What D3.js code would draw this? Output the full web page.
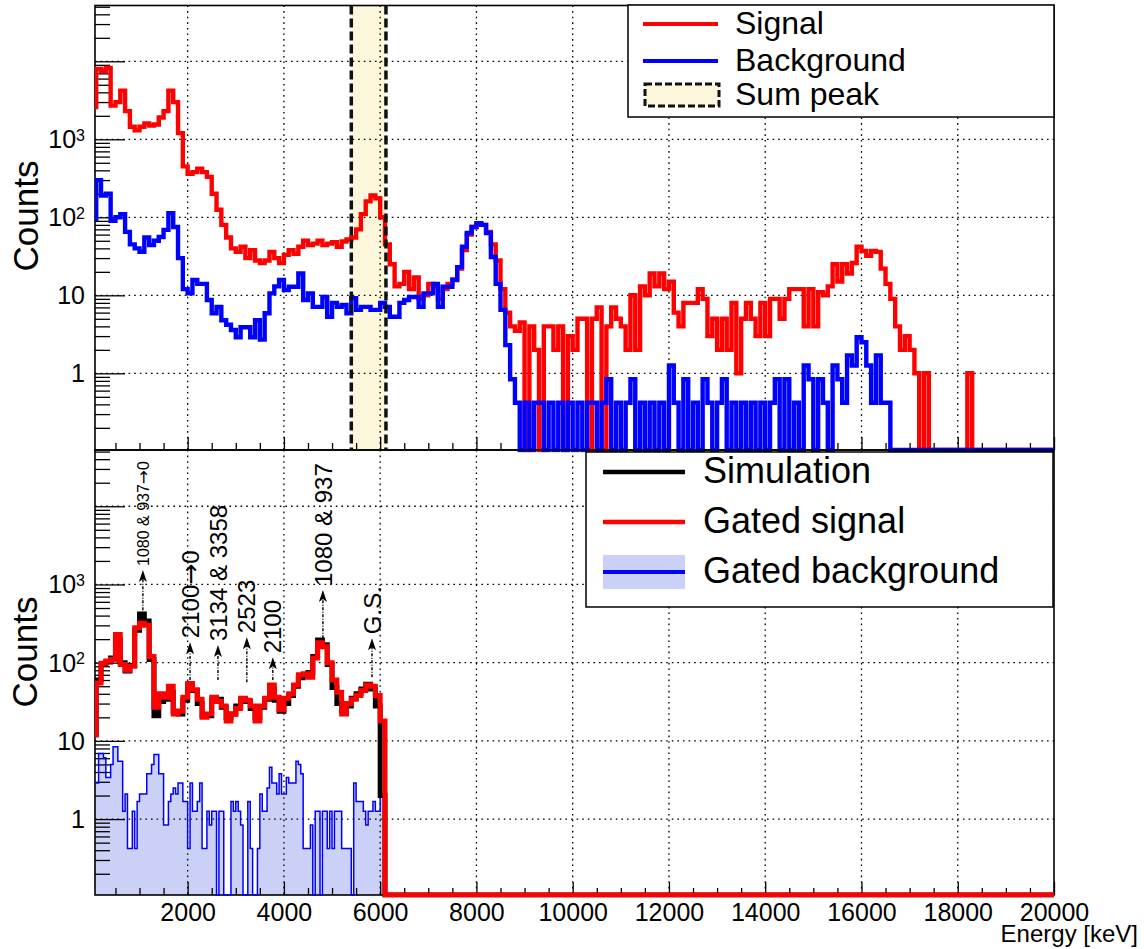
<!DOCTYPE html>
<html>
  <body>
    <style>
      body {
        margin: 0;
        background: #fff;
      }
      svg {
        display: block;
        font-family: 'Liberation Sans', Arial, sans-serif;
      }
      .grid line {
        stroke: #000;
        stroke-width: 1.3;
        stroke-dasharray: 1.6, 4;
      }
      .frame {
        fill: none;
        stroke: #000;
        stroke-width: 1.6;
      }
      .tick line {
        stroke: #000;
        stroke-width: 1.3;
      }
      .hist {
        fill: none;
        stroke-linejoin: miter;
      }
      .ylab {
        font-size: 25px;
      }
      .xlab {
        font-size: 25px;
      }
      .title {
        font-size: 35px;
      }
      .anno {
        font-size: 24px;
      }
      .anno.small {
        font-size: 16px;
      }
      .arrow {
        font-family: 'DejaVu Sans', sans-serif;
        font-size: 1.05em;
      }
    </style>
    <div class="chart"></div>
    <script src="https://d3js.org/d3.v7.min.js"></script>
    <script type="text/javascript">
      // ---- data ----
      // upper panel: 100 keV bins, lower edge of bin i = 100 * i
      const topEdges = d3.range(0, 20000, 100);
      const signal = [
        2600, 8000, 7500, 8200, 2700, 3000, 4200, 2300, 1450, 1300,
        1450, 1600, 1500, 1550, 1900, 2300, 4200, 3000, 1200, 450,
        360, 380, 420, 380, 330, 200, 125, 80, 55, 40,
        36, 42, 30, 38, 28, 26, 28, 36, 30, 26,
        33, 38, 34, 42, 50, 44, 46, 50, 44, 46,
        48, 42, 49, 52, 55, 70, 110, 160, 190, 175,
        100, 45, 25, 13, 14, 20, 12, 17, 9, 10,
        14, 13, 9, 12, 14, 16, 22, 38, 60, 75,
        82, 80, 65, 45, 28, 12, 6, 4, 3.5, 4.5,
        0, 4, 2, 0, 4, 4, 2, 4, 0, 3,
        2, 5, 5, 0, 5, 7, 0, 4, 7, 5,
        4, 2, 10, 2, 13, 10, 19, 13, 19, 12,
        15, 6, 4, 8, 8, 8, 12, 9, 3, 5,
        2, 5, 2, 8, 1, 5, 8, 5, 3, 8,
        3, 9, 9, 5, 9, 12, 12, 12, 4, 12,
        4, 11, 10, 13, 25, 15, 25, 19, 26, 42,
        37, 32, 37, 36, 22, 14, 9, 4, 2, 3,
        2, 1, 0, 1, 0, 0, 0, 0, 0, 0,
        0, 0, 1, 0, 0, 0, 0, 0, 0, 0,
        0, 0, 0, 0, 0, 0, 0, 0, 0, 0,
      ];
      const background = [
        95, 300, 190, 200, 90, 100, 110, 65, 45, 40,
        36, 55, 44, 50, 56, 69, 113, 75, 30, 12,
        10.6, 15.7, 14, 14, 8.7, 5.9, 7.1, 4.8, 4.2, 3.6,
        2.9, 3.9, 3.9, 2.9, 4.8, 2.7, 5.9, 10.6, 13, 15.7,
        11.7, 12.9, 12.9, 19, 8.7, 10.6, 7.1, 7.1, 9.5, 5.3,
        8, 7.1, 7.5, 5.9, 9.2, 6.5, 7.1, 7.1, 6.5, 6.5,
        8, 7.1, 5.3, 5.3, 8, 8.7, 9.5, 9.5, 7.1, 10.6,
        10.6, 14, 7.1, 12.9, 12.9, 15.7, 23, 42, 63, 75,
        84, 80, 63, 31, 14, 6.5, 2.3, 0.84, 0.42, 0,
        0.42, 0, 0.42, 0.42, 0, 0.42, 0, 0.42, 0, 0.42,
        0, 0.42, 0, 0.42, 0.42, 0, 0.42, 0.84, 0, 0.42,
        0, 0.42, 0.84, 0, 0.42, 0, 0.42, 0, 0.42, 0,
        1.26, 0.42, 0, 0.84, 0, 0.42, 0, 0.84, 0.42, 0,
        0.42, 0.84, 0, 0.42, 0, 0.42, 0, 0.42, 0, 0.42,
        0, 0.42, 0.84, 0, 0.84, 0, 0.42, 0, 1.26, 0.84,
        0, 0.84, 0.42, 0, 1.26, 0.84, 0.42, 1.7, 1.26, 2.9,
        2.5, 1.26, 0.42, 1.7, 0.42, 0.42, 0, 0, 0, 0,
        0, 0, 0, 0, 0, 0, 0, 0, 0, 0,
        0, 0, 0, 0, 0, 0, 0, 0, 0, 0,
        0, 0, 0, 0, 0, 0, 0, 0, 0, 0,
      ];
      const sumPeak = [5400, 6120];

      // lower panel: 100 keV bins for simulation and gated signal
      const lowEdges = d3.range(0, 20000, 100);
      const simulation = [
        12, 60, 95, 102, 115, 200, 100, 78, 92, 260,
        420, 340, 110, 21, 32, 34, 42, 24, 22, 33,
        52, 44, 30, 21, 21, 33, 34, 27, 20, 22,
        28, 34, 32, 26, 20, 27, 34, 46, 33, 24,
        30, 38, 50, 64, 70, 75, 120, 195, 170, 95,
        48, 30, 24, 28, 35, 40, 46, 53, 46, 28,
        2, 0, 0, 0, 0, 0, 0, 0, 0, 0,
        0, 0, 0, 0, 0, 0, 0, 0, 0, 0,
        0, 0, 0, 0, 0, 0, 0, 0, 0, 0,
        0, 0, 0, 0, 0, 0, 0, 0, 0, 0,
        0, 0, 0, 0, 0, 0, 0, 0, 0, 0,
        0, 0, 0, 0, 0, 0, 0, 0, 0, 0,
        0, 0, 0, 0, 0, 0, 0, 0, 0, 0,
        0, 0, 0, 0, 0, 0, 0, 0, 0, 0,
        0, 0, 0, 0, 0, 0, 0, 0, 0, 0,
        0, 0, 0, 0, 0, 0, 0, 0, 0, 0,
        0, 0, 0, 0, 0, 0, 0, 0, 0, 0,
        0, 0, 0, 0, 0, 0, 0, 0, 0, 0,
        0, 0, 0, 0, 0, 0, 0, 0, 0, 0,
        0, 0, 0, 0, 0, 0, 0, 0, 0, 0,
      ];
      const gatedSignal = [
        12, 55, 98, 105, 110, 230, 95, 80, 90, 280,
        320, 300, 120, 27, 40, 36, 50, 22, 24, 36,
        54, 45, 34, 20, 22, 36, 32, 28, 18, 22,
        26, 35, 33, 28, 18, 28, 35, 52, 36, 25,
        35, 40, 52, 70, 72, 65, 115, 180, 160, 100,
        60, 42, 22, 30, 34, 38, 44, 52, 50, 38,
        18, 0, 0, 0, 0, 0, 0, 0, 0, 0,
        0, 0, 0, 0, 0, 0, 0, 0, 0, 0,
        0, 0, 0, 0, 0, 0, 0, 0, 0, 0,
        0, 0, 0, 0, 0, 0, 0, 0, 0, 0,
        0, 0, 0, 0, 0, 0, 0, 0, 0, 0,
        0, 0, 0, 0, 0, 0, 0, 0, 0, 0,
        0, 0, 0, 0, 0, 0, 0, 0, 0, 0,
        0, 0, 0, 0, 0, 0, 0, 0, 0, 0,
        0, 0, 0, 0, 0, 0, 0, 0, 0, 0,
        0, 0, 0, 0, 0, 0, 0, 0, 0, 0,
        0, 0, 0, 0, 0, 0, 0, 0, 0, 0,
        0, 0, 0, 0, 0, 0, 0, 0, 0, 0,
        0, 0, 0, 0, 0, 0, 0, 0, 0, 0,
        0, 0, 0, 0, 0, 0, 0, 0, 0, 0,
      ];
      // gated background: 50 keV bins up to 6100 keV
      const bgEdges = d3.range(0, 6100, 50);
      const gatedBackground = [
        1.26, 2.9, 2.9, 6.9, 6.9, 6.1, 3.4, 3.4, 5.0, 8.4,
        8.4, 5.5, 5.5, 1.26, 2.1, 0.42, 0.42, 1.26, 0.42, 1.68,
        2.1, 2.1, 2.1, 3.8, 3.8, 5.0, 6.7, 6.7, 3.8, 3.8,
        0.84, 0.84, 1.68, 2.1, 2.5, 2.1, 2.9, 2.9, 1.68, 1.68,
        0.42, 2.9, 1.26, 1.26, 1.68, 2.9, 0.42, 0.42, 1.26, 0.84,
        1.26, 1.26, 0, 1.26, 1.26, 0, 0, 0, 1.68, 1.26,
        1.68, 1.26, 0.84, 0, 0, 1.68, 0.42, 0, 0, 0.42,
        2.1, 1.26, 1.26, 2.5, 4.6, 2.9, 2.9, 2.1, 3.8, 2.1,
        2.1, 3.4, 2.9, 2.9, 2.9, 5.5, 5.0, 3.8, 0.42, 0.42,
        0.42, 0.84, 0, 1.26, 1.26, 0, 1.26, 1.26, 0.42, 1.26,
        0.42, 1.26, 1.26, 1.26, 0.42, 0.42, 0.42, 0.42, 0, 2.9,
        1.68, 1.68, 1.68, 1.26, 0.84, 1.26, 1.26, 1.68, 1.26, 1.26,
        2.1, 2.1,
      ];

      // peak annotations in the lower panel
      const annoLabels = ['1080 & 937\u21920', '2100\u21920', '3134 & 3358', '2523', '2100', '1080 & 937', 'G.S.'];
      const annoEnergy = [1070, 2050, 2630, 3230, 3770, 4810, 5830];
      const annoTail = [380, 60, 60, 56, 60, 206, 65];
      const annoHead = [1530, 183, 168, 212, 117, 850, 206];

      const xTickValues = [2000, 4000, 6000, 8000, 10000, 12000, 14000, 16000, 18000, 20000];
      const yLabelValues = [1, 10, 100, 1000];
      const topLegend = ['Signal', 'Background', 'Sum peak'];
      const lowLegend = ['Simulation', 'Gated signal', 'Gated background'];

      // ---- layout ----
      const width = 1144;
      const height = 949;
      const left = 95;
      const right = 1054;
      const topPanel = { top: 5.5, bottom: 450 };
      const lowPanel = { top: 450, bottom: 895 };

      const x = d3.scaleLinear().domain([75, 20000]).range([left, right]);
      const yTop = d3.scaleLog().domain([0.104, 51900]).range([topPanel.bottom, topPanel.top]);
      const yLow = d3.scaleLog().domain([0.107, 52400]).range([lowPanel.bottom, lowPanel.top]);

      const svg = d3
        .select('.chart')
        .append('svg')
        .attr('width', width)
        .attr('height', height);

      // clip a little below the frame so zero bins sit on the axis line
      function clipFor(id, p) {
        svg
          .append('clipPath')
          .attr('id', id)
          .append('rect')
          .attr('x', left)
          .attr('y', p.top)
          .attr('width', right - left)
          .attr('height', p.bottom - p.top + 2.5);
      }
      clipFor('clipTop', topPanel);
      clipFor('clipLow', lowPanel);

      function histPoints(edges, binWidth, values) {
        const pts = values.map((v, i) => [edges[i], v]);
        pts.push([edges[values.length - 1] + binWidth, values[values.length - 1]]);
        return pts;
      }

      function stepLine(y) {
        const floor = y.domain()[0];
        return d3
          .line()
          .curve(d3.curveStepAfter)
          .x((d) => x(d[0]))
          .y((d) => y(Math.max(d[1], floor)));
      }

      function stepArea(y, base) {
        const floor = y.domain()[0];
        return d3
          .area()
          .curve(d3.curveStepAfter)
          .x((d) => x(d[0]))
          .y0(base)
          .y1((d) => y(Math.max(d[1], floor)));
      }

      function drawGrid(p, y) {
        const g = svg.append('g').attr('class', 'grid');
        g.selectAll('.gx')
          .data(xTickValues.filter((v) => v < 20000))
          .enter()
          .append('line')
          .attr('x1', (d) => x(d))
          .attr('x2', (d) => x(d))
          .attr('y1', p.top)
          .attr('y2', p.bottom);
        g.selectAll('.gy')
          .data([1, 10, 100, 1000, 10000])
          .enter()
          .append('line')
          .attr('x1', left)
          .attr('x2', right)
          .attr('y1', (d) => y(d))
          .attr('y2', (d) => y(d));
      }

      function drawAxes(p, y, withLabels) {
        // y: major and minor ticks pointing inward
        const decades = [0.1, 1, 10, 100, 1000, 10000];
        const minor = [];
        decades.forEach((d) => {
          for (let k = 2; k <= 9; k++) minor.push(d * k);
        });
        const [lo, hi] = y.domain();
        svg
          .append('g')
          .attr('transform', `translate(${left},0)`)
          .call(d3.axisLeft(y).tickValues(minor.filter((v) => v > lo && v < hi)).tickSize(-15).tickFormat(''))
          .call((g) => g.select('.domain').remove());
        svg
          .append('g')
          .attr('transform', `translate(${left},0)`)
          .call(d3.axisLeft(y).tickValues(decades.filter((v) => v > lo && v < hi)).tickSize(-30).tickFormat(''))
          .call((g) => g.select('.domain').remove());

        // y labels with superscript exponents
        const lab = svg
          .selectAll(null)
          .data(yLabelValues)
          .enter()
          .append('text')
          .attr('class', 'ylab')
          .attr('x', 85)
          .attr('y', (d) => y(d))
          .attr('dy', '0.36em')
          .attr('text-anchor', 'end');
        lab.each(function (d) {
          const e = Math.round(Math.log10(d));
          const t = d3.select(this);
          if (e < 2) {
            t.text(String(d));
          } else {
            t.append('tspan').text('10');
            t.append('tspan').attr('dy', '-0.45em').style('font-size', '16px').text(String(e));
          }
        });

        // x ticks on the bottom edge
        const minorX = d3.range(500, 20000, 500).filter((v) => v % 2000 !== 0);
        svg
          .append('g')
          .attr('transform', `translate(0,${p.bottom})`)
          .call(d3.axisBottom(x).tickValues(minorX).tickSize(-7).tickFormat(''))
          .call((g) => g.select('.domain').remove());
        const ax = svg
          .append('g')
          .attr('transform', `translate(0,${p.bottom})`)
          .call(
            d3
              .axisBottom(x)
              .tickValues(xTickValues)
              .tickSize(-13)
              .tickPadding(8.5)
              .tickFormat(withLabels ? d3.format('d') : '')
          )
          .call((g) => g.select('.domain').remove());
        ax.selectAll('text')
          .attr('class', 'xlab')
          .attr('fill', '#000')
          .style('font-family', "'Liberation Sans', Arial, sans-serif");

        svg
          .append('rect')
          .attr('class', 'frame')
          .attr('x', left)
          .attr('y', p.top)
          .attr('width', right - left)
          .attr('height', p.bottom - p.top);
      }

      // ---- upper panel ----
      svg
        .append('rect')
        .attr('x', x(sumPeak[0]))
        .attr('y', topPanel.top)
        .attr('width', x(sumPeak[1]) - x(sumPeak[0]))
        .attr('height', topPanel.bottom - topPanel.top)
        .attr('fill', '#fcf6db');
      drawGrid(topPanel, yTop);
      drawAxes(topPanel, yTop, false);
      const gTop = svg.append('g').attr('clip-path', 'url(#clipTop)');
      gTop
        .append('path')
        .attr('class', 'hist')
        .attr('d', stepLine(yTop)(histPoints(topEdges, 100, signal)))
        .attr('stroke', '#ff0000')
        .attr('stroke-width', 4.4);
      gTop
        .append('path')
        .attr('class', 'hist')
        .attr('d', stepLine(yTop)(histPoints(topEdges, 100, background)))
        .attr('stroke', '#0000ff')
        .attr('stroke-width', 4.4);
      gTop
        .selectAll('.sumedge')
        .data(sumPeak)
        .enter()
        .append('line')
        .attr('x1', (d) => x(d))
        .attr('x2', (d) => x(d))
        .attr('y1', topPanel.top)
        .attr('y2', topPanel.bottom)
        .attr('stroke', '#111')
        .attr('stroke-width', 3.5)
        .attr('stroke-dasharray', '9,4');

      // ---- lower panel ----
      const gLowFill = svg.append('g').attr('clip-path', 'url(#clipLow)');
      gLowFill
        .append('path')
        .attr('d', stepArea(yLow, lowPanel.bottom)(histPoints(bgEdges, 50, gatedBackground)))
        .attr('fill', '#cbd1f6');
      drawGrid(lowPanel, yLow);
      drawAxes(lowPanel, yLow, true);
      const gLow = svg.append('g').attr('clip-path', 'url(#clipLow)');
      gLow
        .append('path')
        .attr('class', 'hist')
        .attr('d', stepLine(yLow)(histPoints(bgEdges, 50, gatedBackground)))
        .attr('stroke', '#0000ff')
        .attr('stroke-width', 1.5);
      gLow
        .append('path')
        .attr('class', 'hist')
        .attr('d', stepLine(yLow)(histPoints(lowEdges, 100, simulation)))
        .attr('stroke', '#000')
        .attr('stroke-width', 5);
      gLow
        .append('path')
        .attr('class', 'hist')
        .attr('d', stepLine(yLow)(histPoints(lowEdges, 100, gatedSignal)))
        .attr('stroke', '#ff0000')
        .attr('stroke-width', 5);

      // annotations: dash-dot arrow plus rotated label
      const anno = svg
        .selectAll('.anno-g')
        .data(annoLabels)
        .enter()
        .append('g');
      anno
        .append('line')
        .attr('x1', (d, i) => x(annoEnergy[i]))
        .attr('x2', (d, i) => x(annoEnergy[i]))
        .attr('y1', (d, i) => yLow(annoTail[i]))
        .attr('y2', (d, i) => yLow(annoHead[i]) + 8)
        .attr('stroke', '#000')
        .attr('stroke-width', 1.4)
        .attr('stroke-dasharray', '3,1.5,1,1.5');
      anno
        .append('path')
        .attr('d', (d, i) => {
          const ax = x(annoEnergy[i]);
          const ay = yLow(annoHead[i]);
          return `M${ax},${ay} L${ax - 4},${ay + 12} L${ax},${ay + 9} L${ax + 4},${ay + 12} Z`;
        })
        .attr('fill', '#000');
      anno
        .append('text')
        .attr('class', (d, i) => (i === 0 ? 'anno small' : 'anno'))
        .attr('transform', (d, i) => `translate(${x(annoEnergy[i])},${yLow(annoHead[i]) - 4}) rotate(-90)`)
        .attr('dy', '0.36em')
        .each(function (d) {
          const t = d3.select(this);
          d.split('\u2192').forEach((part, k) => {
            if (k > 0) t.append('tspan').attr('class', 'arrow').text('\u2192');
            t.append('tspan').text(part);
          });
        });

      // axis titles
      svg
        .append('text')
        .attr('class', 'title')
        .attr('transform', `translate(38,216) rotate(-90)`)
        .attr('text-anchor', 'middle')
        .text('Counts');
      svg
        .append('text')
        .attr('class', 'title')
        .attr('transform', `translate(37,652) rotate(-90)`)
        .attr('text-anchor', 'middle')
        .text('Counts');
      svg
        .append('text')
        .attr('x', 1138)
        .attr('y', 942)
        .attr('text-anchor', 'end')
        .style('font-size', '24px')
        .text('Energy [keV]');

      // ---- legends ----
      const lt = svg.append('g');
      lt.append('rect')
        .attr('x', 628)
        .attr('y', 5)
        .attr('width', 426)
        .attr('height', 112)
        .attr('fill', '#fff')
        .attr('stroke', '#000')
        .attr('stroke-width', 1.5);
      const topRows = [24, 61, 95];
      lt.selectAll('.lt-text')
        .data(topLegend)
        .enter()
        .append('text')
        .attr('x', 735)
        .attr('y', (d, i) => topRows[i] + 10)
        .style('font-size', '32px')
        .text((d) => d);
      lt.append('line').attr('x1', 643).attr('x2', 718).attr('y1', topRows[0]).attr('y2', topRows[0])
        .attr('stroke', '#ff0000').attr('stroke-width', 4);
      lt.append('line').attr('x1', 643).attr('x2', 718).attr('y1', topRows[1]).attr('y2', topRows[1])
        .attr('stroke', '#0000ff').attr('stroke-width', 4);
      lt.append('rect')
        .attr('x', 645)
        .attr('y', topRows[2] - 11)
        .attr('width', 74)
        .attr('height', 22)
        .attr('fill', '#fcf6db')
        .attr('stroke', '#111')
        .attr('stroke-width', 3)
        .attr('stroke-dasharray', '7,3');

      const ll = svg.append('g');
      ll.append('rect')
        .attr('x', 586)
        .attr('y', 452)
        .attr('width', 467)
        .attr('height', 155)
        .attr('fill', '#fff')
        .attr('stroke', '#000')
        .attr('stroke-width', 1.5);
      const lowRows = [472, 522, 572];
      ll.append('rect')
        .attr('x', 603)
        .attr('y', lowRows[2] - 17)
        .attr('width', 82)
        .attr('height', 34)
        .attr('fill', '#cbd1f6');
      ll.selectAll('.ll-line')
        .data(['#000', '#ff0000', '#0000ff'])
        .enter()
        .append('line')
        .attr('x1', 603)
        .attr('x2', 685)
        .attr('y1', (d, i) => lowRows[i])
        .attr('y2', (d, i) => lowRows[i])
        .attr('stroke', (d) => d)
        .attr('stroke-width', (d, i) => (i === 2 ? 4 : 4.5));
      ll.selectAll('.ll-text')
        .data(lowLegend)
        .enter()
        .append('text')
        .attr('x', 703)
        .attr('y', (d, i) => lowRows[i] + 11)
        .style('font-size', '36px')
        .text((d) => d);
    </script>
  </body>
</html>
